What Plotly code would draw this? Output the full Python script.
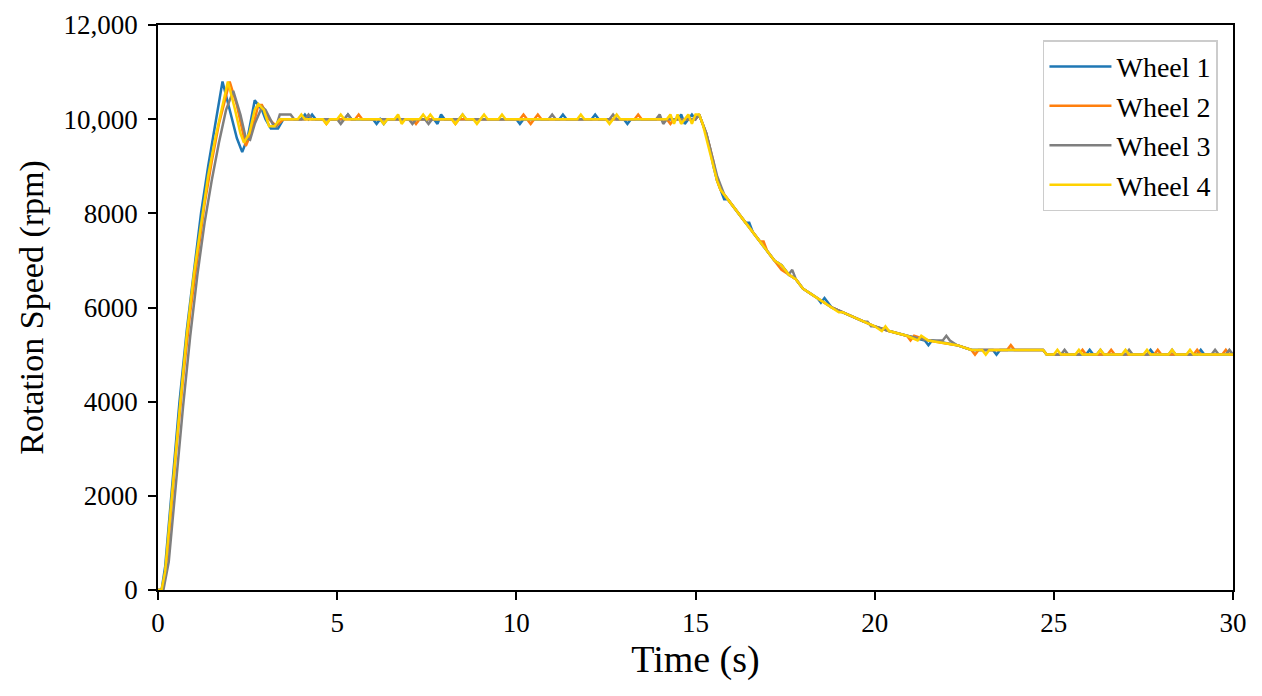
import plotly.graph_objects as go

# ---- data ----
names = ['Wheel 1', 'Wheel 2', 'Wheel 3', 'Wheel 4']

w1_t = [0, 0.1, 0.2, 0.3, 0.4, 0.6, 0.8, 1.0, 1.2, 1.4, 1.6, 1.8,
        2.0, 2.2, 2.35, 2.5, 2.7, 2.9, 3.0, 3.15, 3.35, 3.5,
        4.0, 4.1, 4.2, 4.3, 4.4, 5.2, 5.3, 5.4, 6.0, 6.1, 6.2, 6.3, 6.4,
        7.7, 7.8, 7.9, 8.0, 10.0, 10.1, 10.2, 11.2, 11.3, 11.4,
        12.1, 12.2, 12.3, 13.0, 13.1, 13.2, 14.5, 14.6, 14.7, 14.8, 14.9, 15.0,
        15.1, 15.2, 15.3, 15.4, 15.5, 15.6, 15.7, 15.8, 15.9, 16.0, 16.2, 16.3,
        16.4, 16.5, 16.6, 16.8, 17.0, 17.2, 17.4, 17.6, 17.8, 18.0, 18.2, 18.4,
        18.5, 18.6, 18.8, 19.1, 19.4, 19.7, 20.0, 20.4, 20.9, 21.4, 21.5, 21.6,
        22.3, 22.7, 23.3, 23.4, 23.5, 24.7, 24.8, 25.9, 26.0, 26.1,
        27.6, 27.7, 27.8, 29.0, 29.1, 29.2, 30.0]
w1_v = [0, 0, 500, 1400, 2300, 4000, 5500, 6800, 8000, 9000, 9900, 10800,
        10200, 9600, 9300, 9600, 10400, 10200, 10000, 9800, 9800, 10000,
        10000, 10100, 10000, 10100, 10000, 10000, 10100, 10000, 10000, 9900, 10000, 9900, 10000,
        10000, 9900, 10100, 10000, 10000, 9900, 10000, 10000, 10100, 10000,
        10000, 10100, 10000, 10000, 9900, 10000, 10000, 10100, 9900, 10000, 10100, 10000,
        10100, 9900, 9700, 9400, 9000, 8700, 8500, 8300, 8300, 8200, 8000, 7900,
        7800, 7800, 7600, 7400, 7200, 7000, 6900, 6700, 6600, 6400, 6300, 6200,
        6100, 6200, 6000, 5900, 5800, 5700, 5600, 5500, 5400, 5300, 5200, 5300,
        5200, 5100, 5100, 5000, 5100, 5100, 5000, 5000, 5100, 5000,
        5000, 5100, 5000, 5000, 5100, 5000, 5000]

w2_t = [0, 0.1, 0.2, 0.3, 0.5, 0.7, 0.9, 1.1, 1.3, 1.5, 1.7, 1.9, 2.0,
        2.2, 2.4, 2.45, 2.6, 2.8, 2.9, 3.1, 3.3, 3.5,
        4.6, 4.7, 4.8, 5.5, 5.6, 5.7, 7.1, 7.2, 7.3, 8.2, 8.3, 8.4,
        10.1, 10.2, 10.3, 10.4, 10.5, 10.6, 10.7, 13.3, 13.4, 13.5, 14.2, 14.3, 14.4, 15.0,
        15.1, 15.2, 15.3, 15.4, 15.5, 15.6, 15.7, 15.8, 16.0, 16.2, 16.4, 16.6,
        16.8, 16.9, 17.0, 17.2, 17.4, 17.6, 17.8, 18.0, 18.2, 18.4, 18.6, 18.8,
        19.1, 19.4, 19.7, 20.0, 20.4, 20.9, 21.0, 21.1, 21.5, 22.3, 22.7, 22.8, 22.9,
        23.7, 23.8, 23.9, 24.7, 24.8, 25.7, 25.8, 25.9, 26.5, 26.6, 26.7,
        27.8, 27.9, 28.0, 28.9, 29.0, 29.1, 29.7, 29.8, 29.9, 30.0]
w2_v = [0, 0, 300, 1100, 2900, 4500, 5900, 7100, 8200, 9100, 9900, 10500, 10800,
        10300, 9600, 9430, 9700, 10300, 10300, 10000, 9850, 10000,
        10000, 9900, 10000, 10000, 10100, 10000, 10000, 9900, 10000, 10000, 9900, 10000,
        10000, 10100, 10000, 9900, 10000, 10100, 10000, 10000, 10100, 10000, 10000, 9900, 10000, 10000,
        10100, 9900, 9700, 9400, 9100, 8700, 8500, 8400, 8200, 8000, 7800, 7600,
        7400, 7400, 7200, 7000, 6800, 6700, 6600, 6400, 6300, 6200, 6100, 6000,
        5900, 5800, 5700, 5600, 5500, 5400, 5300, 5400, 5300, 5200, 5100, 5000, 5100,
        5100, 5200, 5100, 5100, 5000, 5000, 5100, 5000, 5000, 5100, 5000,
        5000, 5100, 5000, 5000, 5100, 5000, 5000, 5100, 5000, 5000]

w3_t = [0, 0.15, 0.3, 0.5, 0.7, 0.9, 1.1, 1.3, 1.5, 1.7, 1.9, 2.1,
        2.3, 2.45, 2.57, 2.7, 2.9, 3.0, 3.2, 3.3, 3.4, 3.7, 3.8,
        4.1, 4.2, 4.3, 5.0, 5.1, 5.2, 5.3, 5.4, 7.0, 7.1, 7.2, 7.45, 7.55, 7.65,
        8.4, 8.5, 8.6, 10.9, 11.0, 11.1, 12.6, 12.7, 12.8, 13.9, 14.0, 14.1, 14.2, 14.3, 15.0,
        15.1, 15.2, 15.3, 15.4, 15.5, 15.6, 15.7, 15.8, 16.0, 16.2, 16.4, 16.6,
        16.8, 17.0, 17.2, 17.4, 17.6, 17.7, 17.8, 18.0, 18.2, 18.4, 18.6, 18.8,
        19.1, 19.4, 19.7, 19.8, 19.9, 20.0, 20.4, 20.9, 21.5, 21.9, 22.0, 22.1,
        22.3, 22.7, 24.7, 24.8, 25.2, 25.3, 25.4, 26.2, 26.3, 26.4,
        27.0, 27.1, 27.2, 28.2, 28.3, 28.4, 29.4, 29.5, 29.6, 29.8, 29.9, 30.0]
w3_v = [0, 0, 600, 2300, 3900, 5400, 6700, 7800, 8700, 9500, 10200, 10600,
        10100, 9600, 9560, 9900, 10260, 10200, 9900, 9850, 10100, 10100, 10000,
        10000, 10100, 10000, 10000, 9900, 10000, 10100, 10000, 10000, 9900, 10000, 10000, 9900, 10000,
        10000, 10100, 10000, 10000, 10100, 10000, 10000, 10100, 10000, 10000, 10100, 9900, 10000, 10000, 10000,
        10100, 9900, 9700, 9400, 9100, 8800, 8600, 8400, 8200, 8000, 7800, 7600,
        7400, 7200, 7000, 6900, 6700, 6800, 6600, 6400, 6300, 6200, 6100, 6000,
        5900, 5800, 5700, 5700, 5600, 5600, 5500, 5400, 5300, 5300, 5400, 5300,
        5200, 5100, 5100, 5000, 5000, 5100, 5000, 5000, 5100, 5000,
        5000, 5100, 5000, 5000, 5100, 5000, 5000, 5100, 5000, 5000, 5100, 5000]

w4_t = [0, 0.1, 0.2, 0.3, 0.4, 0.6, 0.8, 1.0, 1.2, 1.4, 1.6, 1.8, 1.95,
        2.15, 2.3, 2.4, 2.55, 2.7, 2.8, 2.95, 3.1, 3.25, 3.4,
        3.9, 4.0, 4.1, 4.6, 4.7, 4.8, 5.0, 5.1, 5.2, 6.2, 6.3, 6.4, 6.6, 6.7, 6.8, 6.9, 7.0,
        7.3, 7.4, 7.5, 7.6, 7.7, 7.8, 8.2, 8.3, 8.4, 8.5, 8.6, 8.8, 8.9, 9.0, 9.1, 9.2, 9.3,
        9.5, 9.6, 9.7, 11.7, 11.8, 11.9, 12.5, 12.6, 12.7, 12.8, 12.9, 13.0,
        14.2, 14.3, 14.4, 14.5, 14.6, 14.7, 14.8, 14.9, 15.0,
        15.1, 15.2, 15.3, 15.4, 15.5, 15.6, 15.7, 15.8, 16.0, 16.2, 16.4, 16.6,
        16.8, 17.0, 17.2, 17.4, 17.6, 17.8, 18.0, 18.2, 18.4, 18.6, 18.8,
        19.0, 19.1, 19.4, 19.7, 20.0, 20.2, 20.3, 20.4, 20.9, 21.2, 21.3, 21.5,
        22.3, 22.7, 23.0, 23.1, 23.2, 24.7, 24.8, 25.0, 25.1, 25.2, 25.6, 25.7, 25.8,
        26.2, 26.3, 26.4, 26.9, 27.0, 27.1, 27.5, 27.6, 27.7, 28.2, 28.3, 28.4,
        28.7, 28.8, 28.9, 30.0]
w4_v = [0, 0, 400, 1300, 2100, 3800, 5400, 6700, 7800, 8800, 9600, 10300, 10800,
        10200, 9700, 9500, 9700, 10200, 10320, 10200, 9850, 9850, 10000,
        10000, 10100, 10000, 10000, 9900, 10000, 10000, 10100, 10000, 10000, 9900, 10000, 10000, 10100, 9900, 10000, 10000,
        10000, 10100, 10000, 10100, 10000, 10000, 10000, 9900, 10000, 10100, 10000, 10000, 9900, 10000, 10100, 10000, 10000,
        10000, 10100, 10000, 10000, 10100, 10000, 10000, 9900, 10000, 10100, 10000, 10000,
        10000, 10100, 9900, 10100, 9900, 10000, 10100, 9900, 10100,
        10100, 9900, 9600, 9300, 9000, 8700, 8500, 8400, 8200, 8000, 7800, 7600,
        7400, 7200, 7000, 6900, 6700, 6600, 6400, 6300, 6200, 6100, 6000,
        5900, 5900, 5800, 5700, 5600, 5500, 5600, 5500, 5400, 5300, 5400, 5300,
        5200, 5100, 5100, 5000, 5100, 5100, 5000, 5000, 5100, 5000, 5000, 5100, 5000,
        5000, 5100, 5000, 5000, 5100, 5000, 5000, 5100, 5000, 5000, 5100, 5000,
        5000, 5100, 5000, 5000]

colors = ['#1f77b4', '#ff7f0e', '#7f7f7f', '#ffd200']

x_ticks = [0, 5, 10, 15, 20, 25, 30]
y_ticks = [0, 2000, 4000, 6000, 8000, 10000, 12000]
y_tick_text = ['0', '2000', '4000', '6000', '8000', '10,000', '12,000']

# ---- figure ----
fig = go.Figure()
for t, v, name, color in zip([w1_t, w2_t, w3_t, w4_t], [w1_v, w2_v, w3_v, w4_v], names, colors):
    fig.add_trace(go.Scatter(x=t, y=v, name=name, mode='lines',
                             line=dict(color=color, width=2.5)))

# page has an 8px body margin, so margins are shifted by that
fig.update_layout(
    width=1262, height=696,
    margin=dict(l=150, r=37, t=17, b=114),
    paper_bgcolor='white', plot_bgcolor='white',
    font=dict(family='Liberation Serif', size=27, color='black'),
    legend=dict(
        x=0.986, y=0.973, xanchor='right', yanchor='top',
        bgcolor='white', bordercolor='#cccccc', borderwidth=1.5,
        font=dict(size=28),
        itemwidth=62,
        tracegroupgap=0,
    ),
)
fig.update_xaxes(range=[0, 30], tickvals=x_ticks, automargin=False,
                 showline=True, linecolor='black', linewidth=1.8, mirror=True,
                 ticks='outside', ticklen=8, tickwidth=1.6, tickcolor='black',
                 showgrid=False, zeroline=False,
                 title=dict(text='Time (s)', font=dict(size=38), standoff=6))
fig.update_yaxes(range=[0, 12000], tickvals=y_ticks, ticktext=y_tick_text, automargin=False,
                 showline=True, linecolor='black', linewidth=1.8, mirror=True,
                 ticks='outside', ticklen=8, tickwidth=1.6, tickcolor='black',
                 ticklabelstandoff=5,
                 showgrid=False, zeroline=False,
                 title=dict(text='Rotation Speed (rpm)', font=dict(size=34), standoff=10))

fig.write_html("out.html")
